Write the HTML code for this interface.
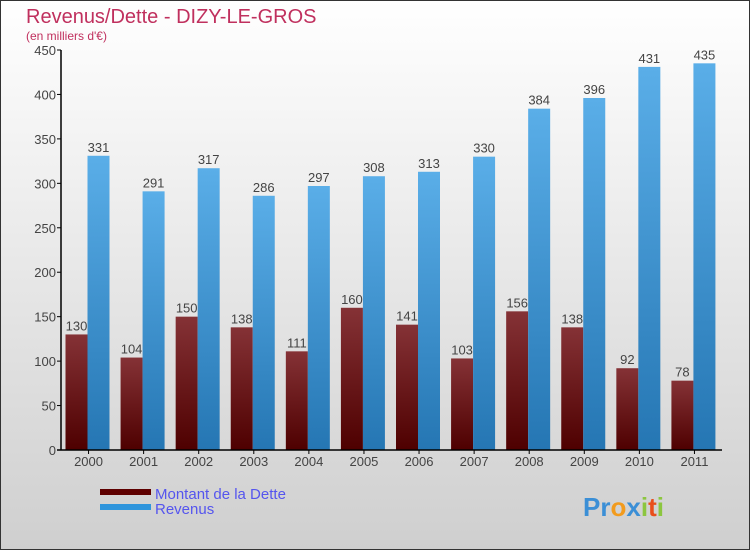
<!DOCTYPE html>
<html><head><meta charset="utf-8"><style>
body{margin:0;width:750px;height:550px;overflow:hidden}
svg{display:block;font-family:"Liberation Sans","DejaVu Sans",sans-serif}
</style></head><body>
<svg width="750" height="550">
<defs>
<linearGradient id="bg" x1="0" y1="0" x2="0" y2="1"><stop offset="0" stop-color="#ffffff"/><stop offset="1" stop-color="#cfcfcf"/></linearGradient>
<linearGradient id="gd" x1="0" y1="0" x2="0" y2="1"><stop offset="0" stop-color="#853236"/><stop offset="1" stop-color="#4e0000"/></linearGradient>
<linearGradient id="gr" x1="0" y1="0" x2="0" y2="1"><stop offset="0" stop-color="#5aaee8"/><stop offset="1" stop-color="#2576b3"/></linearGradient>
</defs>
<rect x="0.5" y="0.5" width="749" height="549" fill="url(#bg)" stroke="#333"/>
<text x="26" y="23" font-size="20" fill="#c0305e">Revenus/Dette - DIZY-LE-GROS</text>
<text x="26" y="40" font-size="12" fill="#c0305e">(en milliers d'€)</text>
<g id="plot"></g>
<rect x="100" y="489" width="51" height="6" fill="#5e0000"/>
<text x="155" y="499" font-size="15" fill="#5555ee">Montant de la Dette</text>
<rect x="100" y="504" width="51" height="6" fill="#2f95dc"/>
<text x="155" y="514" font-size="15" fill="#5555ee">Revenus</text>
<text x="583" y="516" font-size="26" font-weight="bold"><tspan fill="#3b8fd6">Pr</tspan><tspan fill="#f29b1d">o</tspan><tspan fill="#3b8fd6">x</tspan><tspan fill="#8cc63f">i</tspan><tspan fill="#e94e1b">t</tspan><tspan fill="#8cc63f">i</tspan></text>
</svg>
<script>
const years=["2000","2001","2002","2003","2004","2005","2006","2007","2008","2009","2010","2011"];
const dette=[130,104,150,138,111,160,141,103,156,138,92,78];
const revenus=[331,291,317,286,297,308,313,330,384,396,431,435];
const ticks=[0,50,100,150,200,250,300,350,400,450];
const NS="http://www.w3.org/2000/svg";
const g=document.getElementById('plot');
const x0=61,x1=722,y0=450,y1=50,maxV=450;
const band=(x1-x0)/years.length;
const y=v=>y0-(v/maxV)*(y0-y1);
const bx=i=>x0+i*band;
function mk(t,a,txt){const e=document.createElementNS(NS,t);for(const k in a)e.setAttribute(k,a[k]);if(txt!=null)e.textContent=txt;g.appendChild(e);return e;}
let e;
ticks.forEach(t=>{
 e=mk('line',{x1:x0-4,x2:x0,y1:y(t),y2:y(t),stroke:'#000'});
 
 
 e=mk('text',{x:x0-5,y:y(t)+5,'font-size':13,fill:'#444','text-anchor':'end'},t);
 
 
});
years.forEach((yr,i)=>{
 const b=bx(i);
 e=mk('rect',{x:b+4.5,y:y(dette[i]),width:22,height:y0-y(dette[i]),fill:'url(#gd)'});
 
 
 e=mk('rect',{x:b+26.5,y:y(revenus[i]),width:22,height:y0-y(revenus[i]),fill:'url(#gr)'});
 
 
 e=mk('text',{x:b+15.5,y:y(dette[i])-4,'font-size':13,fill:'#444','text-anchor':'middle'},dette[i]);
 
 
 e=mk('text',{x:b+37.5,y:y(revenus[i])-4,'font-size':13,fill:'#444','text-anchor':'middle'},revenus[i]);
 
 
 e=mk('line',{x1:b+band/2,x2:b+band/2,y1:y0,y2:y0+4,stroke:'#000'});
 
 
 e=mk('text',{x:b+band/2,y:y0+16,'font-size':13,fill:'#444','text-anchor':'middle'},yr);
 
 
});
e=mk('line',{x1:x0,x2:x0,y1:y1,y2:y0,stroke:'#000','stroke-width':1.5});


e=mk('line',{x1:x0-4,x2:x1,y1:y0,y2:y0,stroke:'#000','stroke-width':1.5});


</script>
</body></html>
